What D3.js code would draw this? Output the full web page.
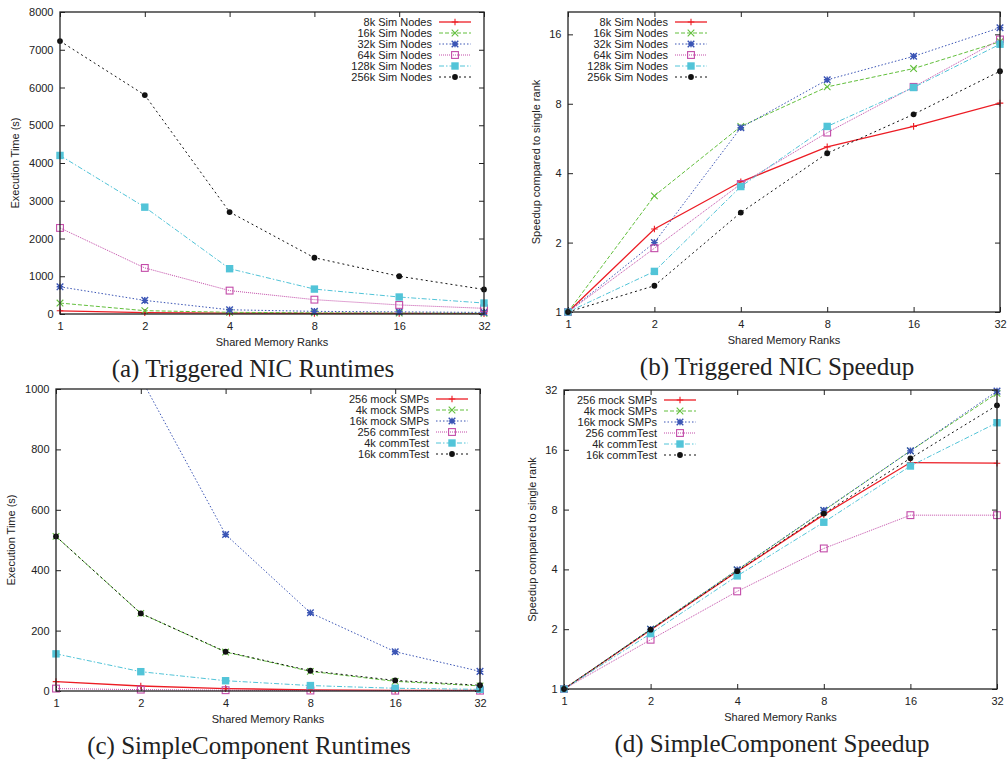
<!DOCTYPE html>
<html>
<head>
<meta charset="utf-8">
<script src="https://cdn.jsdelivr.net/npm/d3@7"></script>
<style>
body { margin: 0; background: #fff; }
</style>
</head>
<body>
<script>

// shared x values
var ranks = [1, 2, 4, 8, 16, 32];

// (a) + (b) triggered NIC
var nicNames = ["8k Sim Nodes", "16k Sim Nodes", "32k Sim Nodes", "64k Sim Nodes", "128k Sim Nodes", "256k Sim Nodes"];
var nicRuntime = [
    [85, 37, 23, 16, 13, 10],
    [290, 88, 45, 30, 25, 19],
    [720, 360, 112, 70, 56, 42],
    [2280, 1220, 620, 380, 240, 150],
    [4200, 2830, 1200, 660, 450, 290],
    [7230, 5800, 2700, 1490, 1000, 650]
];
var nicSpeedup = [
    [1, 2.29, 3.67, 5.2, 6.38, 8.05],
    [1, 3.19, 6.38, 9.47, 11.37, 14.87],
    [1, 2.0, 6.3, 10.16, 12.85, 17.1],
    [1, 1.89, 3.59, 6.0, 9.47, 15.2],
    [1, 1.5, 3.5, 6.38, 9.41, 14.5],
    [1, 1.30, 2.70, 4.88, 7.2, 11.07]
];

// (c) + (d) SimpleComponent
var scNames = ["256 mock SMPs", "4k mock SMPs", "16k mock SMPs", "256 commTest", "4k commTest", "16k commTest"];
var scRuntime = [
    [31, 16.5, 8, 4, 2.2, 2.2],
    [512, 257, 129, 65, 32, 17],
    [2070, 1036, 518, 259, 130, 65],
    [8, 4.5, 2.6, 1.6, 1.1, 1.1],
    [123, 64, 34, 18, 9, 5.5],
    [512, 257, 130, 67, 35, 19]
];
var scSpeedup = [
    [1, 1.98, 3.9, 7.55, 13.8, 13.7],
    [1, 2.0, 3.97, 7.9, 15.8, 30.8],
    [1, 2.0, 3.98, 7.94, 15.8, 31.6],
    [1, 1.77, 3.1, 5.1, 7.5, 7.5],
    [1, 1.90, 3.71, 6.91, 13.26, 21.9],
    [1, 1.99, 3.92, 7.64, 14.5, 26.8]
];

var runtimeTicksA = [0, 1000, 2000, 3000, 4000, 5000, 6000, 7000, 8000];
var speedupTicksB = [1, 2, 4, 8, 16];
var runtimeTicksC = [0, 200, 400, 600, 800, 1000];
var speedupTicksD = [1, 2, 4, 8, 16, 32];

// gnuplot-like line types
var colors = ["#ec1c24", "#62bf3c", "#3b55b5", "#c34ca9", "#52c4d8", "#111111"];
var dashes = [null, "4,2", "1.5,2", "1,1", "5,2,1.5,2", "2,3"];
var markers = ["plus", "cross", "star", "osquare", "square", "circle"];

var panels = [
    {left: 60, top: 12, w: 424, h: 302, data: nicRuntime, names: nicNames, log: false, dom: [0, 8000], ticks: runtimeTicksA,
     ylabel: "Execution Time (s)", ylx: 15, legX: -52, legRight: true, caption: "(a) Triggered NIC Runtimes", capX: 253},
    {left: 568, top: 12, w: 432, h: 300, data: nicSpeedup, names: nicNames, log: true, dom: [1, 20], ticks: speedupTicksB,
     ylabel: "Speedup compared to single rank", ylx: 536, legX: 100, legRight: false, caption: "(b) Triggered NIC Speedup", capX: 777},
    {left: 56, top: 389, w: 424, h: 302, data: scRuntime, names: scNames, log: false, dom: [0, 1000], ticks: runtimeTicksC,
     ylabel: "Execution Time (s)", ylx: 11, legX: -51, legRight: true, caption: "(c) SimpleComponent Runtimes", capX: 249},
    {left: 564, top: 390, w: 433, h: 299, data: scSpeedup, names: scNames, log: true, dom: [1, 32], ticks: speedupTicksD,
     ylabel: "Speedup compared to single rank", ylx: 532, legX: 93, legRight: false, caption: "(d) SimpleComponent Speedup", capX: 772}
];

var svg = d3.select("body").append("svg")
    .attr("width", 1007)
    .attr("height", 760)
    .style("font-family", "'Liberation Sans', Arial, sans-serif");

function drawMarker(g, type, x, y, color){
    var s = 3.3;
    if (type == "plus"){
        g.append("path").attr("d", "M" + (x - s) + "," + y + "H" + (x + s) + "M" + x + "," + (y - s) + "V" + (y + s))
            .attr("stroke", color).attr("stroke-width", 1.1).attr("fill", "none");
    } else if (type == "cross"){
        g.append("path").attr("d", "M" + (x - s) + "," + (y - s) + "L" + (x + s) + "," + (y + s) + "M" + (x - s) + "," + (y + s) + "L" + (x + s) + "," + (y - s))
            .attr("stroke", color).attr("stroke-width", 1.1).attr("fill", "none");
    } else if (type == "star"){
        g.append("path").attr("d", "M" + (x - s) + "," + (y - s) + "L" + (x + s) + "," + (y + s) + "M" + (x - s) + "," + (y + s) + "L" + (x + s) + "," + (y - s)
                + "M" + (x - s) + "," + y + "H" + (x + s) + "M" + x + "," + (y - s) + "V" + (y + s))
            .attr("stroke", color).attr("stroke-width", 1.4).attr("fill", "none");
    } else if (type == "osquare"){
        g.append("rect").attr("x", x - 3.4).attr("y", y - 3.4).attr("width", 6.8).attr("height", 6.8)
            .attr("fill", "none").attr("stroke", color).attr("stroke-width", 1.1);
    } else if (type == "square"){
        g.append("rect").attr("x", x - 3.7).attr("y", y - 3.7).attr("width", 7.4).attr("height", 7.4)
            .attr("fill", color);
    } else {
        g.append("circle").attr("cx", x).attr("cy", y).attr("r", 2.9).attr("fill", color);
    }
}

panels.forEach(function(p, pi){
    var g = svg.append("g").attr("transform", "translate(" + p.left + "," + p.top + ")");

    var x = d3.scaleLog().base(2).domain([1, 32]).range([0, p.w]);
    var y = p.log ? d3.scaleLog().base(2).domain(p.dom).range([p.h, 0])
                  : d3.scaleLinear().domain(p.dom).range([p.h, 0]);

    // axes with inward ticks on all four sides
    var xb = g.append("g").attr("transform", "translate(0," + p.h + ")")
        .call(d3.axisBottom(x).tickValues(ranks).tickFormat(d3.format("d")).tickSize(-5).tickPadding(8));
    var xt = g.append("g")
        .call(d3.axisTop(x).tickValues(ranks).tickFormat("").tickSize(-5));
    var yl = g.append("g")
        .call(d3.axisLeft(y).tickValues(p.ticks).tickFormat(d3.format("d")).tickSize(-5).tickPadding(6.5));
    var yr = g.append("g").attr("transform", "translate(" + p.w + ",0)")
        .call(d3.axisRight(y).tickValues(p.ticks).tickFormat("").tickSize(-5));
    [xb, xt, yl, yr].forEach(function(a){
        a.select(".domain").remove();
        a.selectAll(".tick line").attr("stroke", "#222");
        a.selectAll("text").attr("font-size", "11px").attr("fill", "#222")
            .attr("font-family", "'Liberation Sans', Arial, sans-serif");
    });

    // clip for lines
    g.append("clipPath").attr("id", "clip" + pi)
        .append("rect").attr("width", p.w).attr("height", p.h);

    var line = d3.line().x(function(d, i){ return x(ranks[i]); }).y(function(d){ return y(d); });

    p.data.forEach(function(vals, si){
        g.append("path")
            .attr("d", line(vals))
            .attr("clip-path", "url(#clip" + pi + ")")
            .attr("fill", "none")
            .attr("stroke", colors[si])
            .attr("stroke-width", si == 0 ? 1.3 : 1)
            .attr("stroke-dasharray", dashes[si]);
        vals.forEach(function(v, i){
            if (v <= p.dom[1] && v >= p.dom[0]) drawMarker(g, markers[si], x(ranks[i]), y(v), colors[si]);
        });
    });

    // border
    g.append("rect").attr("width", p.w).attr("height", p.h)
        .attr("fill", "none").attr("stroke", "#222").attr("stroke-width", 1.3);

    // legend
    var lg = g.append("g").attr("transform", "translate(" + (p.legRight ? p.w + p.legX : p.legX) + ",10)");
    p.names.forEach(function(n, si){
        var ry = si * 11;
        lg.append("text").attr("x", 0).attr("y", ry).attr("dy", "0.35em")
            .attr("text-anchor", "end").attr("font-size", "11px").attr("fill", "#222").text(n);
        lg.append("line").attr("x1", 7).attr("x2", 39).attr("y1", ry).attr("y2", ry)
            .attr("stroke", colors[si]).attr("stroke-width", si == 0 ? 1.3 : 1)
            .attr("stroke-dasharray", dashes[si]);
        drawMarker(lg, markers[si], 23, ry, colors[si]);
    });

    // axis titles
    svg.append("text")
        .attr("transform", "translate(" + p.ylx + "," + (p.top + p.h / 2) + ") rotate(-90)")
        .attr("text-anchor", "middle").attr("dy", "0.35em")
        .attr("font-size", "11px").attr("fill", "#222").text(p.ylabel);
    svg.append("text")
        .attr("x", p.left + p.w / 2).attr("y", p.top + p.h + 28)
        .attr("text-anchor", "middle").attr("dy", "0.35em")
        .attr("font-size", "11px").attr("fill", "#222").text("Shared Memory Ranks");

    // caption
    svg.append("text")
        .attr("x", p.capX).attr("y", p.top + p.h + 63)
        .attr("text-anchor", "middle")
        .attr("font-family", "'Liberation Serif', 'Times New Roman', serif")
        .attr("font-size", "25px").attr("fill", "#222").text(p.caption);
});

</script>
</body>
</html>
